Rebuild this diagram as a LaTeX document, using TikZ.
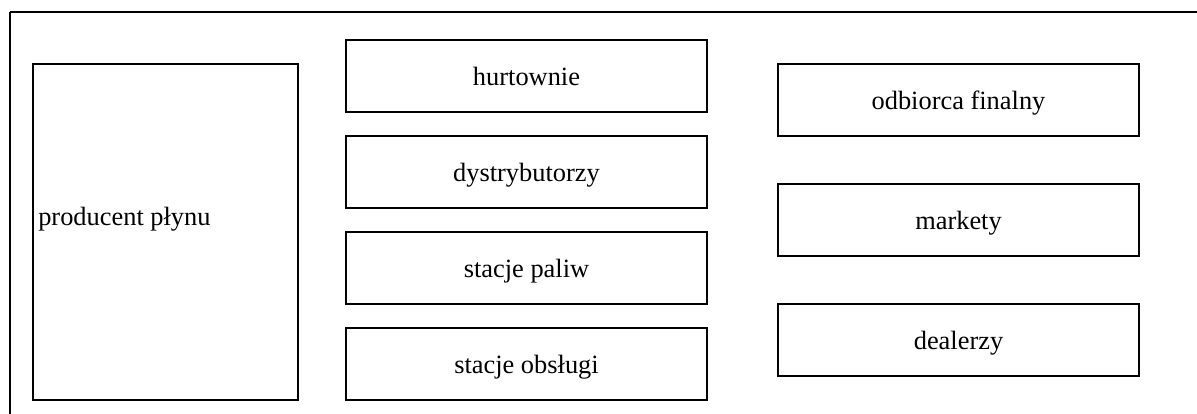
\documentclass[tikz,border=0pt]{standalone}
\usepackage{fontspec}
\setmainfont{Liberation Serif}
\begin{document}
\begin{tikzpicture}[x=0.75pt,y=-0.75pt,
  box/.style={draw=black,line width=1.1pt,rectangle,inner sep=0pt,outer sep=0pt,
    minimum width=361*0.75pt,minimum height=72*0.75pt,
    text height=13.6pt,text depth=0pt,
    font=\fontsize{19.8}{24}\selectfont},
  frame/.style={draw=black}]
\useasboundingbox (0,0) rectangle (1197,414);
% outer frame (top and left edges)
\coordinate (tl) at (10,12);
\coordinate (tr) at (1197,12);
\coordinate (bl) at (10,414);
\draw[line width=1.6pt] (tl) -- (tr);
\draw[line width=0.8pt] (tl) -- (bl);
% producer
\node[box,minimum width=265*0.75pt,minimum height=336*0.75pt] (prod) at (165.5,232) {};
\node[anchor=west,inner sep=0pt,text height=13.6pt,text depth=0pt,font=\fontsize{19.8}{24}\selectfont] (prodtxt) at (38,216) {producent płynu};
% middle column
\node[box] (hurt) at (526.5,76) {hurtownie};
\node[box] (dystr) at (526.5,172) {dystrybutorzy};
\node[box] (paliw) at (526.5,268) {stacje paliw};
\node[box] (obsl) at (526.5,364) {stacje obsługi};
% right column
\node[box] (odb) at (958.5,100) {odbiorca finalny};
\node[box] (mark) at (958.5,220) {markety};
\node[box] (deal) at (958.5,340) {dealerzy};
\end{tikzpicture}
\end{document}
